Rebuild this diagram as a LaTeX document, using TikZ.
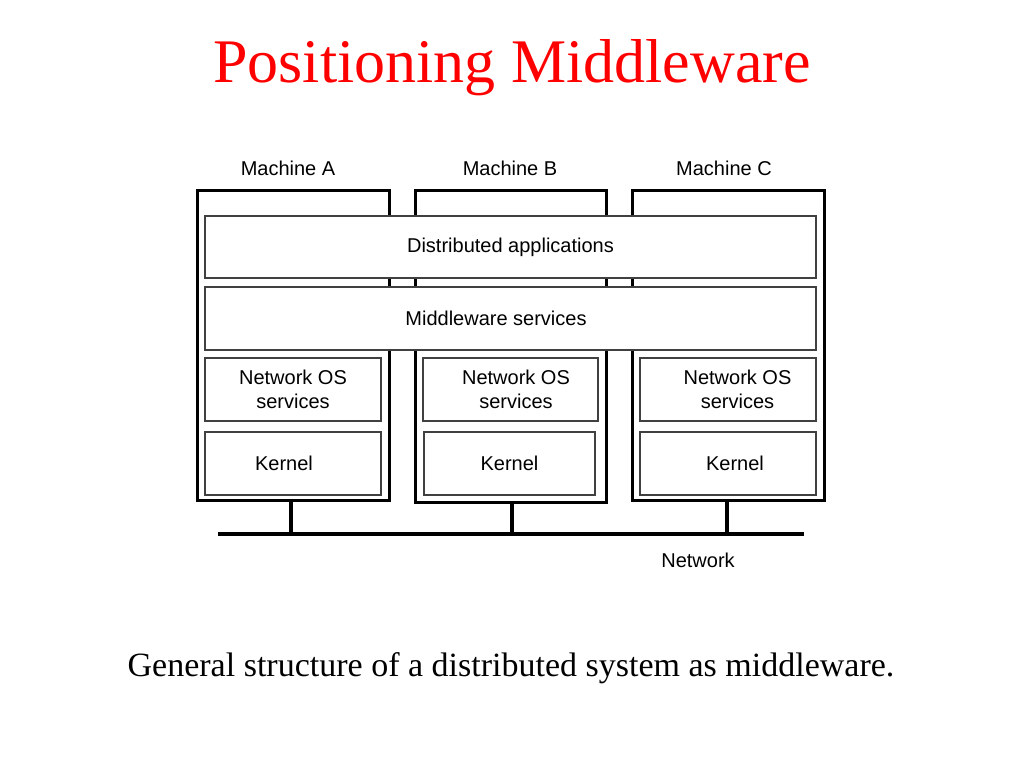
\documentclass[tikz,border=0pt]{standalone}
\usepackage{fontspec}
\setmainfont{Liberation Serif}
\setsansfont{Liberation Sans}
\usepackage{tikz}
\usetikzlibrary{positioning}
\tikzstyle{machine} = [rectangle, draw=black, line width=3pt, minimum width=192pt, minimum height=310pt, inner sep=0pt]
\tikzstyle{layer} = [rectangle, draw=black!75, line width=1.3pt, fill=white, minimum height=63pt, inner sep=0pt, text centered, align=center, font=\sffamily\fontsize{20}{24}\selectfont]
\tikzstyle{label} = [font=\sffamily\fontsize{20}{24}\selectfont, inner sep=0pt]
\tikzstyle{wire} = [line width=4pt, -]

\begin{document}
\begin{tikzpicture}[x=1pt, y=-1pt]
            \useasboundingbox (0,0) rectangle (1024,768);
            \node (title) [text=red, inner sep=0pt, font=\fontsize{62}{70}\selectfont] at (512,68) {Positioning Middleware};

            \node (machA) [machine] at (293,345) {};
            \node (machB) [machine, minimum width=191pt, minimum height=312pt] at (510.5,346) {};
            \node (machC) [machine] at (728,345) {};
            \node (labA) [label] at (288,168) {Machine A};
            \node (labB) [label] at (510,168) {Machine B};
            \node (labC) [label] at (724,168) {Machine C};

            \node (apps) [layer, minimum width=611pt, minimum height=62pt] at (510.5,247) {\raisebox{-2pt}{Distributed applications}};
            \node (mw) [layer, minimum width=611pt] at (510.5,318.5) {Middleware services\hspace*{29pt}};
            \node (nosA) [layer, minimum width=176pt] at (293,389.5) {Network OS\\services};
            \node (kernA) [layer, minimum width=176pt] at (293,463.5) {Kernel\hspace*{18pt}};
            \node (nosB) [layer, minimum width=175pt] at (510.5,389.5) {\hspace*{11pt}Network OS\\\hspace*{11pt}services};
            \node (kernB) [layer, minimum width=171pt] at (509.5,463.5) {Kernel};
            \node (nosC) [layer, minimum width=176pt] at (728,389.5) {\hspace*{19pt}Network OS\\\hspace*{19pt}services};
            \node (kernC) [layer, minimum width=176pt] at (728,463.5) {\hspace*{14pt}Kernel};

            \coordinate (netL) at (218,534);
            \coordinate (netR) at (804,534);
            \node (netlab) [label] at (698,560) {Network};

            \draw [wire] (netL) -- (netR);
            \draw [wire] ([xshift=-2pt]machA.south) -- ([xshift=-2pt]machA.south |- netL);
            \draw [wire] ([xshift=1.5pt]machB.south) -- ([xshift=1.5pt]machB.south |- netL);
            \draw [wire] ([xshift=-1pt]machC.south) -- ([xshift=-1pt]machC.south |- netL);

            \node (caption) [inner sep=0pt, font=\fontsize{34}{40}\selectfont] at (511,668) {General structure of a distributed system as middleware.};

        \end{tikzpicture}
\end{document}
